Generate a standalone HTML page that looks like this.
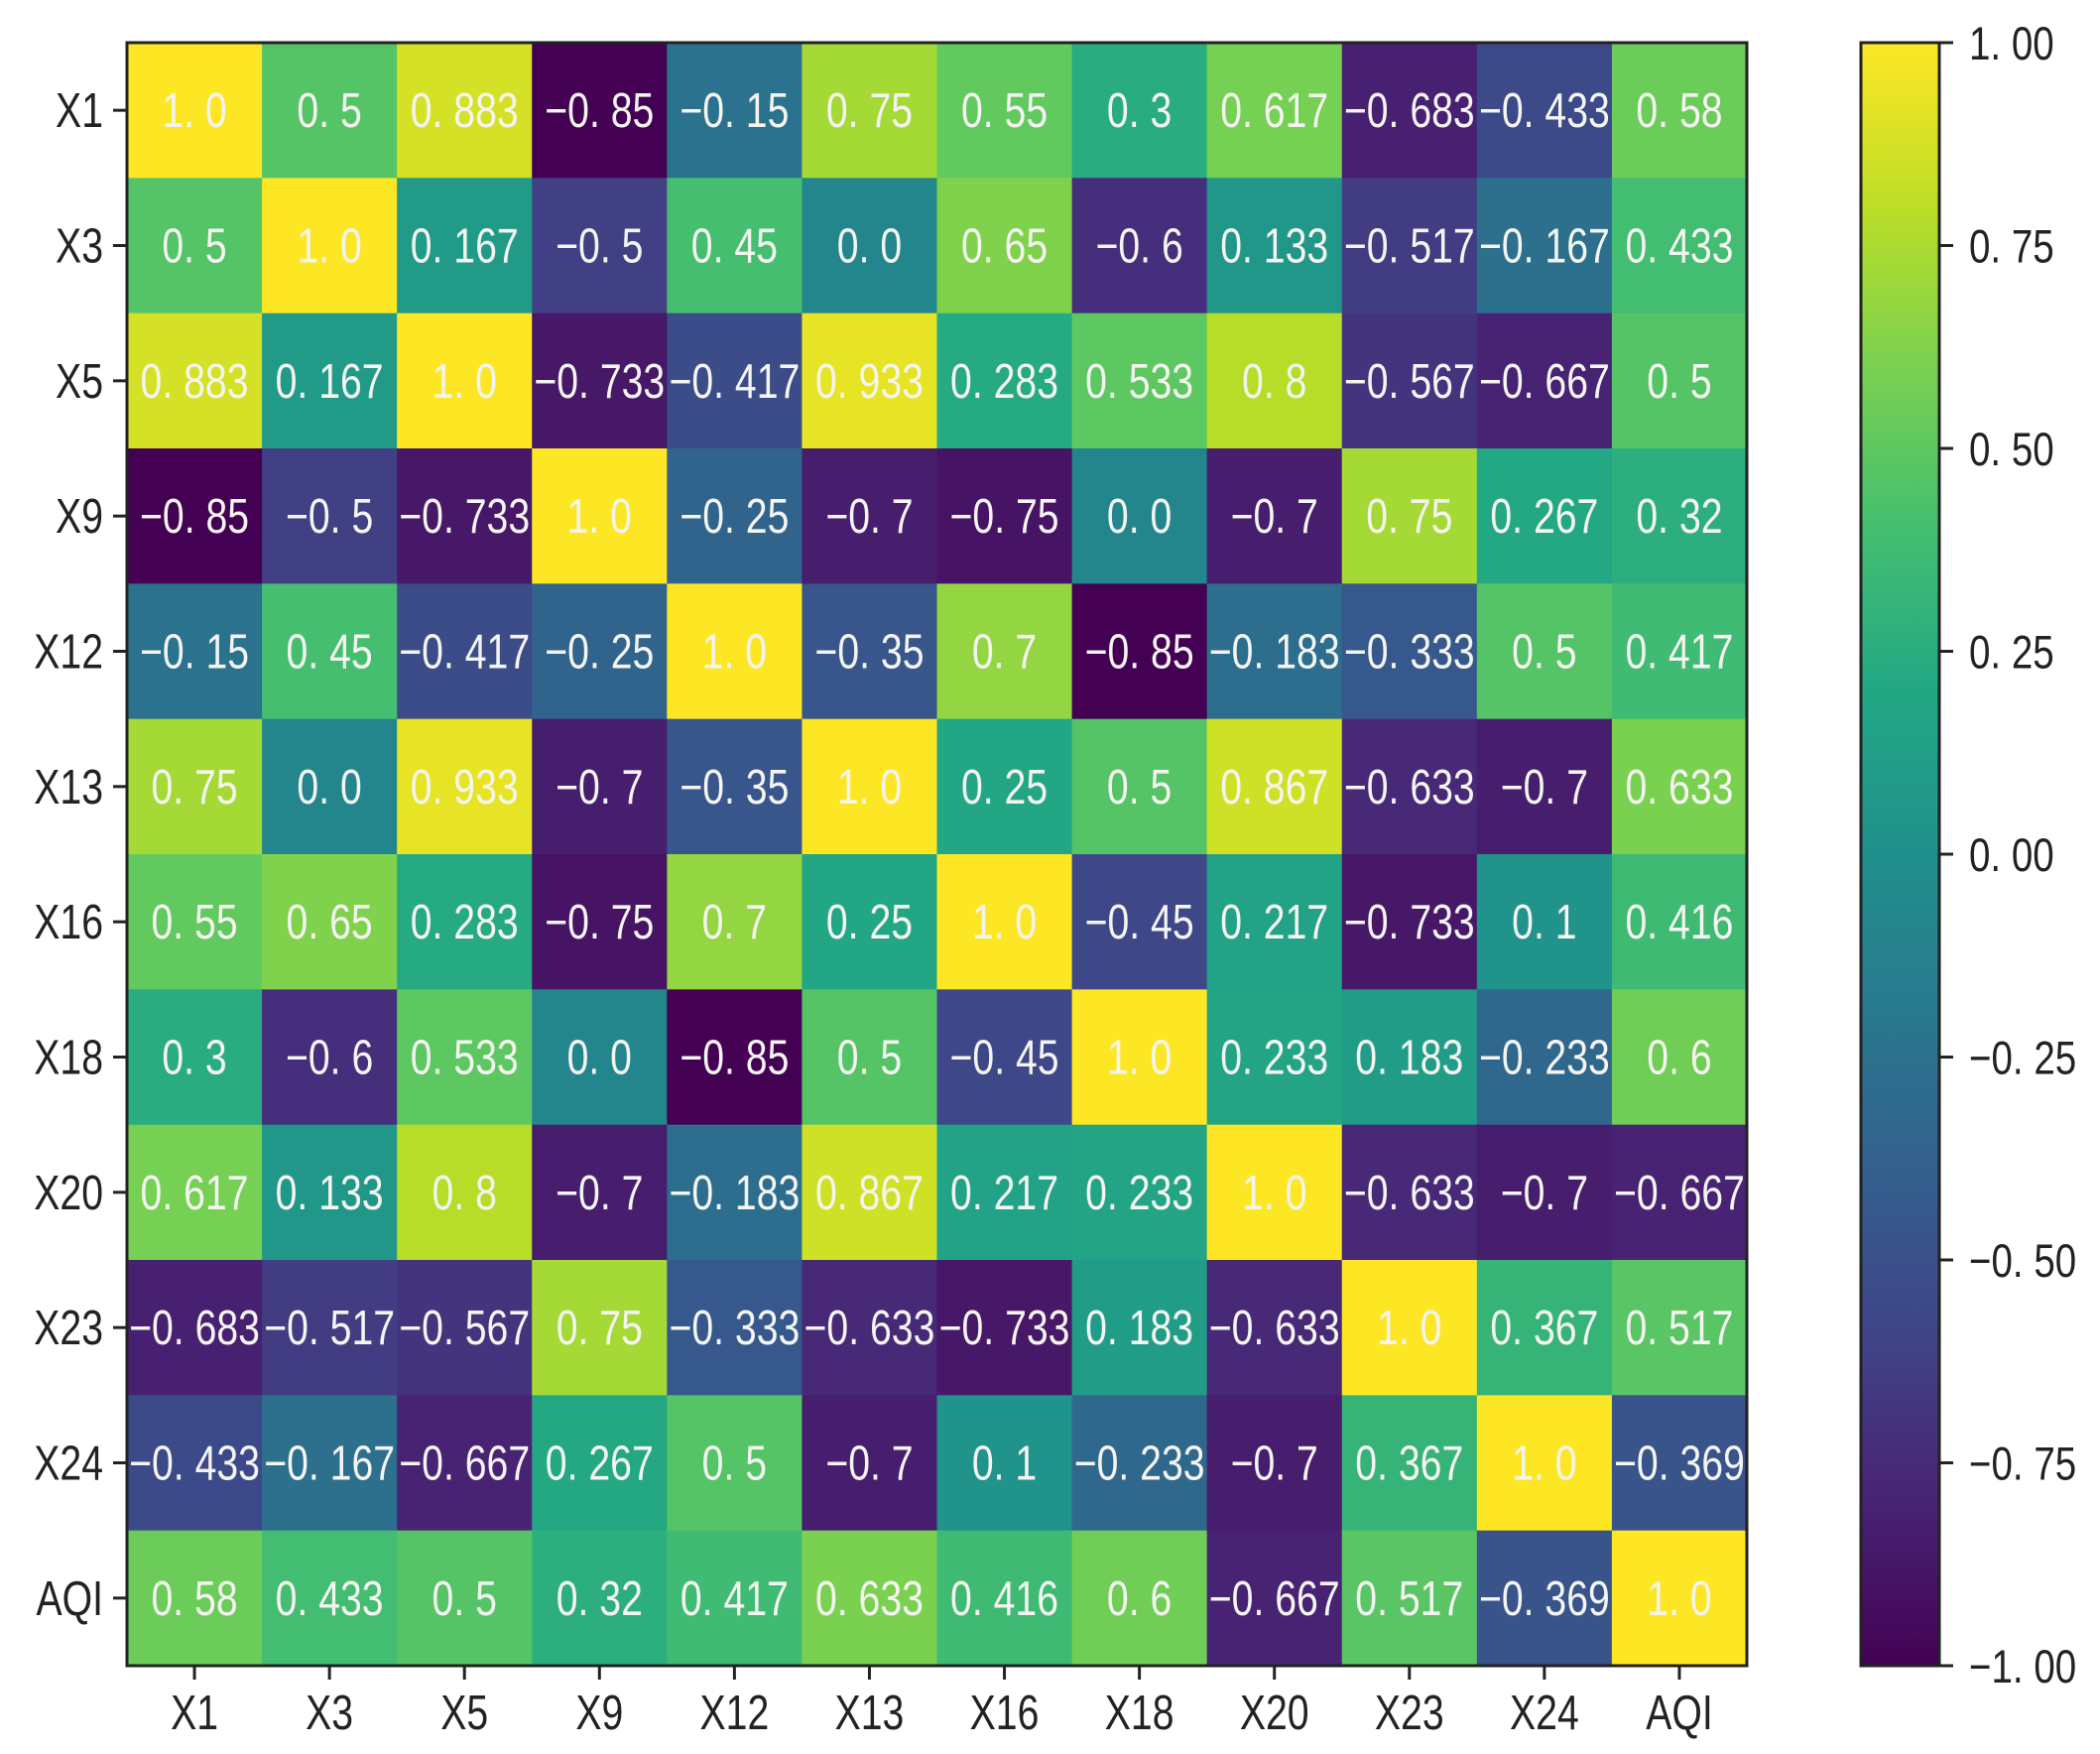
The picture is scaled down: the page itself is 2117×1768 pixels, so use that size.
<!DOCTYPE html>
<html><head><meta charset="utf-8"><style>
html,body{margin:0;padding:0;background:#fff;}
svg{display:block;font-family:"Liberation Sans","Noto Sans CJK SC",sans-serif;}
</style></head><body>
<svg id="chart" width="2117" height="1768" viewBox="0 0 2117 1768" xmlns="http://www.w3.org/2000/svg">
<defs>
<linearGradient id="vir" x1="0" y1="1" x2="0" y2="0"></linearGradient>
</defs>
<g id="cells"></g>
<g id="labels"></g>
<g id="axes"></g>
<g id="cbar"></g>
</svg>
<script>
const categories = ["X1","X3","X5","X9","X12","X13","X16","X18","X20","X23","X24","AQI"];
const row0 = [1.0,0.5,0.883,-0.85,-0.15,0.75,0.55,0.3,0.617,-0.683,-0.433,0.58];
const row1 = [0.5,1.0,0.167,-0.5,0.45,0.0,0.65,-0.6,0.133,-0.517,-0.167,0.433];
const row2 = [0.883,0.167,1.0,-0.733,-0.417,0.933,0.283,0.533,0.8,-0.567,-0.667,0.5];
const row3 = [-0.85,-0.5,-0.733,1.0,-0.25,-0.7,-0.75,0.0,-0.7,0.75,0.267,0.32];
const row4 = [-0.15,0.45,-0.417,-0.25,1.0,-0.35,0.7,-0.85,-0.183,-0.333,0.5,0.417];
const row5 = [0.75,0.0,0.933,-0.7,-0.35,1.0,0.25,0.5,0.867,-0.633,-0.7,0.633];
const row6 = [0.55,0.65,0.283,-0.75,0.7,0.25,1.0,-0.45,0.217,-0.733,0.1,0.416];
const row7 = [0.3,-0.6,0.533,0.0,-0.85,0.5,-0.45,1.0,0.233,0.183,-0.233,0.6];
const row8 = [0.617,0.133,0.8,-0.7,-0.183,0.867,0.217,0.233,1.0,-0.633,-0.7,-0.667];
const row9 = [-0.683,-0.517,-0.567,0.75,-0.333,-0.633,-0.733,0.183,-0.633,1.0,0.367,0.517];
const row10 = [-0.433,-0.167,-0.667,0.267,0.5,-0.7,0.1,-0.233,-0.7,0.367,1.0,-0.369];
const row11 = [0.58,0.433,0.5,0.32,0.417,0.633,0.416,0.6,-0.667,0.517,-0.369,1.0];
const matrix = [row0,row1,row2,row3,row4,row5,row6,row7,row8,row9,row10,row11];
const colorbarTicks = [1.0,0.75,0.5,0.25,0.0,-0.25,-0.5,-0.75,-1.0];
const colorbarTickLabels = ["1. 00","0. 75","0. 50","0. 25","0. 00","\u22120. 25","\u22120. 50","\u22120. 75","\u22121. 00"];

const NS="http://www.w3.org/2000/svg";
const L=128,R=1761,T=43,B=1679;
const n=categories.length, cw=(R-L)/n, ch=(B-T)/n;
const xPos=i=>L+i*cw, yPos=i=>T+i*ch;
const CB={x0:1876,x1:1955,t:43,b:1679};
const cbY=v=>CB.b-(v+1)/2*(CB.b-CB.t);
const cellMin=-0.85, cellMax=1.0;
const vir=[[68,1,84],[72,35,116],[64,67,135],[52,94,141],[41,120,142],[32,144,140],[34,167,132],[68,190,112],[121,209,81],[189,222,38],[253,231,37]];
function colorT(t){t=Math.max(0,Math.min(1,t))*(vir.length-1);let i=Math.min(Math.floor(t),vir.length-2),f=t-i;const c=vir[i].map((a,k)=>Math.round(a+(vir[i+1][k]-a)*f));return `rgb(${c})`;}
function cellColor(v){return colorT((v-cellMin)/(cellMax-cellMin));}
function el(tag,attrs,parent){const e=document.createElementNS(NS,tag);for(const k in attrs)e.setAttribute(k,attrs[k]);parent.appendChild(e);return e;}
function fmt(v){let s=String(v);if(Number.isInteger(v))s=v.toFixed(1);s=s.replace('-','\u2212').replace('.','. ');return s;}
const cells=document.getElementById('cells'),labels=document.getElementById('labels'),axes=document.getElementById('axes'),cbar=document.getElementById('cbar');
for(let r=0;r<n;r++)for(let c=0;c<n;c++){
  const v=matrix[r][c];
  const rect=el('rect',{x:xPos(c),y:yPos(r),width:cw+0.6,height:ch+0.6,fill:cellColor(v)},cells);
  
  
  const t=el('text',{x:0,y:0,'font-size':49,fill:'#f4f4f0','text-anchor':'middle',transform:`translate(${xPos(c)+cw/2},${yPos(r)+ch/2+17}) scale(0.8,1)`},labels);
  t.textContent=fmt(v);
  
  
}
el('rect',{x:L,y:T,width:R-L,height:B-T,fill:'none',stroke:'#222','stroke-width':3},axes);
categories.forEach((name,i)=>{
  const cy=yPos(i)+ch/2, cx=xPos(i)+cw/2;
  el('line',{x1:L-14,x2:L,y1:cy,y2:cy,stroke:'#222','stroke-width':3},axes);
  const yl=el('text',{x:0,y:0,'font-size':49,fill:'#222','text-anchor':'end',transform:`translate(${L-24},${cy+17}) scale(0.8,1)`},axes);
  yl.textContent=name;
  
  
  el('line',{x1:cx,x2:cx,y1:B,y2:B+14,stroke:'#222','stroke-width':3},axes);
  const xl=el('text',{x:0,y:0,'font-size':49,fill:'#222','text-anchor':'middle',transform:`translate(${cx},${B+64}) scale(0.8,1)`},axes);
  xl.textContent=name;
  
  
});
const g=document.getElementById('vir');
vir.forEach((c,i)=>el('stop',{offset:(i/(vir.length-1)),'stop-color':`rgb(${c})`},g));
const cbr=el('rect',{x:CB.x0,y:CB.t,width:CB.x1-CB.x0,height:CB.b-CB.t,fill:'url(#vir)',stroke:'#222','stroke-width':3},cbar);


colorbarTicks.forEach((v,i)=>{
  const y=cbY(v);
  el('line',{x1:CB.x1,x2:CB.x1+14,y1:y,y2:y,stroke:'#222','stroke-width':3},cbar);
  const t=el('text',{x:0,y:0,'font-size':47,fill:'#222',transform:`translate(${CB.x1+30},${y+17}) scale(0.82,1)`},cbar);
  t.textContent=colorbarTickLabels[i];
  
  
});
</script>
</body></html>
